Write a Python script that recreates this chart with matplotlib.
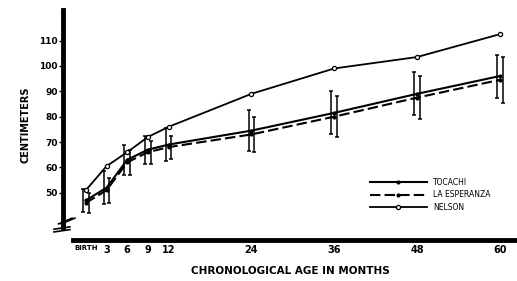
import matplotlib.pyplot as plt
import numpy as np

# months of age
months = [0, 3, 6, 9, 12, 24, 36, 48, 60]
month_labels = ['BIRTH', '3', '6', '9', '12', '24', '36', '48', '60']

# height in cm
nelson = [51, 60.5, 66, 72, 76, 89, 99, 103.5, 112.5]
tocachi = [47, 52, 63, 67, 69, 74.5, 81.5, 89, 96]
esperanza = [46, 51, 62, 66, 68, 73, 80, 87.5, 94.5]

# standard deviations
tocachi_sd = [4.5, 6.5, 6, 5.5, 6.5, 8, 8.5, 8.5, 8.5]
esperanza_sd = [4, 5, 5, 4.5, 4.5, 7, 8, 8.5, 9]

fig = plt.figure(figsize=(5.17, 2.81), dpi=100)
ax = fig.add_axes([0.122, 0.146, 0.878, 0.818])

ax.plot(months, nelson, color='black', lw=1.3, marker='o', markersize=3,
        markerfacecolor='white', markeredgewidth=0.9, label='NELSON')
ax.plot(months, tocachi, color='black', lw=1.5, marker='o', markersize=2,
        label='TOCACHI')
ax.plot(months, esperanza, color='black', lw=1.5, ls=(0, (5, 2)), marker='o',
        markersize=2, label='LA ESPERANZA')

m = np.array(months)
ax.errorbar(m - 0.4, tocachi, yerr=tocachi_sd, fmt='none', ecolor='black',
            elinewidth=1.1, capsize=1.2, capthick=1.1)
ax.errorbar(m + 0.4, esperanza, yerr=esperanza_sd, fmt='none', ecolor='black',
            elinewidth=1.1, capsize=1.2, capthick=1.1)

ax.set_xlim(-3.3, 62.5)
ax.set_ylim(31.4, 122)

ax.set_yticks([50, 60, 70, 80, 90, 100, 110])
ax.set_yticklabels(['50', '60', '70', '80', '90', '100', '110'],
                   fontsize=6.5, fontweight='bold')
ax.set_xticks(months)
ax.set_xticklabels(month_labels, fontsize=7, fontweight='bold')
ax.get_xticklabels()[0].set_fontsize(5)

ax.tick_params(axis='y', length=3, width=1, pad=1)
ax.tick_params(axis='x', length=3, width=1, pad=2, direction='inout')

for side in ['top', 'right']:
    ax.spines[side].set_visible(False)
ax.spines['left'].set_linewidth(3.5)
ax.spines['bottom'].set_linewidth(3.5)
ax.spines['left'].set_bounds(36, 122)
ax.spines['bottom'].set_bounds(-1.8, 62.5)

# axis break marks
for dx in (0.0, 0.006):
    ax.plot([-0.01 + dx, 0.02 + dx], [0.07, 0.095], transform=ax.transAxes,
            color='black', lw=1.2, clip_on=False)
for dy in (0.0, 0.012):
    ax.plot([-0.02, 0.015], [0.035 + dy, 0.045 + dy], transform=ax.transAxes,
            color='black', lw=1.2, clip_on=False)

ax.set_ylabel('CENTIMETERS', fontsize=7, fontweight='bold', labelpad=6)
ax.set_xlabel('CHRONOLOGICAL AGE IN MONTHS', fontsize=7.5, fontweight='bold',
              labelpad=8)

handles, labels = ax.get_legend_handles_labels()
order = [1, 2, 0]
ax.legend([handles[i] for i in order], [labels[i] for i in order],
          loc='upper left', bbox_to_anchor=(0.66, 0.30), frameon=False,
          fontsize=5.5, handlelength=7.5, labelspacing=0.45, markerscale=1,
          handletextpad=0.8)

fig.savefig('out.png', dpi=100)
